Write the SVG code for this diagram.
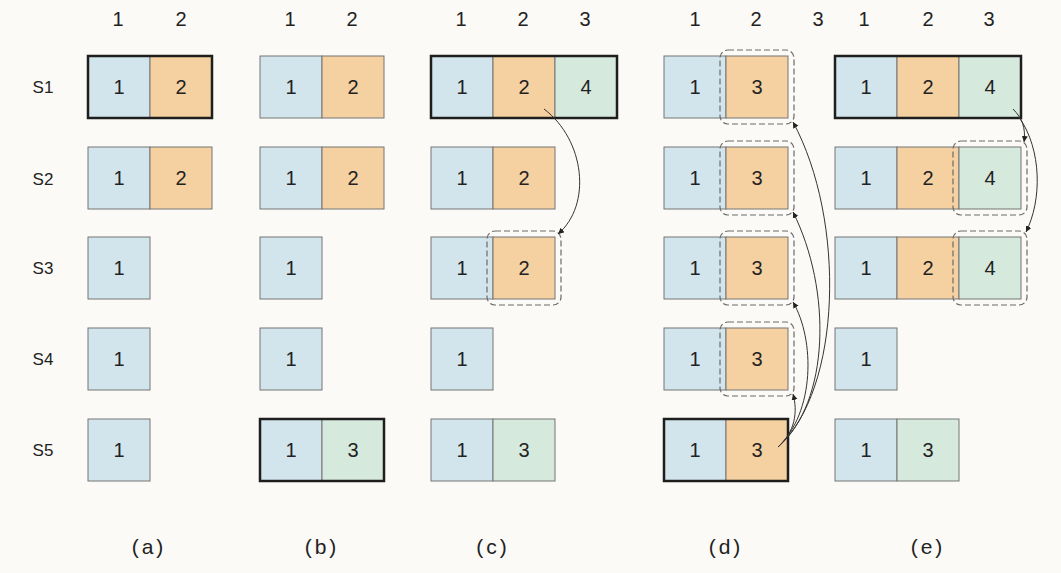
<svg xmlns="http://www.w3.org/2000/svg" width="1061" height="573" viewBox="0 0 1061 573">
<defs>
<style>
.b{fill:#d3e5ec;stroke:#757575;stroke-width:1}
.o{fill:#f5d1a1;stroke:#757575;stroke-width:1}
.g{fill:#d6e9dd;stroke:#757575;stroke-width:1}
.thick{fill:none;stroke:#1e1e1e;stroke-width:2.5}
.dash{fill:none;stroke:#6a6a6a;stroke-width:1.2;stroke-dasharray:6 3}
.t{font-family:"Liberation Sans","DejaVu Sans",sans-serif;font-size:20px;fill:#222;text-anchor:middle;dominant-baseline:central}
.h{font-family:"Liberation Sans","DejaVu Sans",sans-serif;font-size:20px;fill:#222;text-anchor:middle;dominant-baseline:central}
.s{font-family:"Liberation Sans","DejaVu Sans",sans-serif;font-size:17px;fill:#222;text-anchor:middle;dominant-baseline:central}
.cap{font-family:"Liberation Sans","DejaVu Sans",sans-serif;font-size:21px;fill:#222;text-anchor:middle;dominant-baseline:central;letter-spacing:3px}
.arr{fill:none;stroke:#333;stroke-width:1;marker-end:url(#ah)}
</style>
<marker id="ah" markerWidth="7" markerHeight="7" refX="6" refY="3" orient="auto" markerUnits="userSpaceOnUse">
<path d="M0,0 L6,3 L0,6 Z" fill="#222"/>
</marker>
</defs>
<rect width="1061" height="573" fill="#fbfaf6"/>

<g id="headers">
<text class="h" x="118" y="19">1</text><text class="h" x="181" y="19">2</text>
<text class="h" x="290" y="19">1</text><text class="h" x="352" y="19">2</text>
<text class="h" x="461" y="19">1</text><text class="h" x="523" y="19">2</text><text class="h" x="585" y="19">3</text>
<text class="h" x="695" y="19">1</text><text class="h" x="756" y="19">2</text><text class="h" x="818" y="19">3</text>
<text class="h" x="864" y="19">1</text><text class="h" x="928" y="19">2</text><text class="h" x="989" y="19">3</text>
</g>

<g id="rowlabels">
<text class="s" x="43" y="87">S1</text>
<text class="s" x="43" y="179">S2</text>
<text class="s" x="43" y="268">S3</text>
<text class="s" x="43" y="359">S4</text>
<text class="s" x="43" y="450">S5</text>
</g>

<g id="col-a">
<g id="a-s1"><rect class="b" x="88" y="56" width="62" height="62"/><rect class="o" x="150" y="56" width="62" height="62"/><rect class="thick" x="88" y="56" width="124" height="62"/><text class="t" x="119" y="87">1</text><text class="t" x="181" y="87">2</text></g>
<g id="a-s2"><rect class="b" x="88" y="147" width="62" height="62"/><rect class="o" x="150" y="147" width="62" height="62"/><text class="t" x="119" y="178">1</text><text class="t" x="181" y="178">2</text></g>
<g id="a-s3"><rect class="b" x="88" y="237" width="62" height="62"/><text class="t" x="119" y="268">1</text></g>
<g id="a-s4"><rect class="b" x="88" y="328" width="62" height="62"/><text class="t" x="119" y="359">1</text></g>
<g id="a-s5"><rect class="b" x="88" y="419" width="62" height="62"/><text class="t" x="119" y="450">1</text></g>
</g>

<g id="col-b">
<g id="b-s1"><rect class="b" x="260" y="56" width="62" height="62"/><rect class="o" x="322" y="56" width="62" height="62"/><text class="t" x="291" y="87">1</text><text class="t" x="353" y="87">2</text></g>
<g id="b-s2"><rect class="b" x="260" y="147" width="62" height="62"/><rect class="o" x="322" y="147" width="62" height="62"/><text class="t" x="291" y="178">1</text><text class="t" x="353" y="178">2</text></g>
<g id="b-s3"><rect class="b" x="260" y="237" width="62" height="62"/><text class="t" x="291" y="268">1</text></g>
<g id="b-s4"><rect class="b" x="260" y="328" width="62" height="62"/><text class="t" x="291" y="359">1</text></g>
<g id="b-s5"><rect class="b" x="260" y="419" width="62" height="62"/><rect class="g" x="322" y="419" width="62" height="62"/><rect class="thick" x="260" y="419" width="124" height="62"/><text class="t" x="291" y="450">1</text><text class="t" x="353" y="450">3</text></g>
</g>

<g id="col-c">
<g id="c-s1"><rect class="b" x="431" y="56" width="62" height="62"/><rect class="o" x="493" y="56" width="62" height="62"/><rect class="g" x="555" y="56" width="62" height="62"/><rect class="thick" x="431" y="56" width="186" height="62"/><text class="t" x="462" y="87">1</text><text class="t" x="524" y="87">2</text><text class="t" x="586" y="87">4</text></g>
<g id="c-s2"><rect class="b" x="431" y="147" width="62" height="62"/><rect class="o" x="493" y="147" width="62" height="62"/><text class="t" x="462" y="178">1</text><text class="t" x="524" y="178">2</text></g>
<g id="c-s3"><rect class="b" x="431" y="237" width="62" height="62"/><rect class="o" x="493" y="237" width="62" height="62"/><rect class="dash" x="487" y="231" width="74" height="74" rx="8"/><text class="t" x="462" y="268">1</text><text class="t" x="524" y="268">2</text></g>
<g id="c-s4"><rect class="b" x="431" y="328" width="62" height="62"/><text class="t" x="462" y="359">1</text></g>
<g id="c-s5"><rect class="b" x="431" y="419" width="62" height="62"/><rect class="g" x="493" y="419" width="62" height="62"/><text class="t" x="462" y="450">1</text><text class="t" x="524" y="450">3</text></g>
</g>

<g id="col-d">
<g id="d-s1"><rect class="b" x="664" y="56" width="62" height="62"/><rect class="o" x="726" y="56" width="62" height="62"/><rect class="dash" x="720" y="50" width="74" height="74" rx="8"/><text class="t" x="695" y="87">1</text><text class="t" x="757" y="87">3</text></g>
<g id="d-s2"><rect class="b" x="664" y="147" width="62" height="62"/><rect class="o" x="726" y="147" width="62" height="62"/><rect class="dash" x="720" y="141" width="74" height="74" rx="8"/><text class="t" x="695" y="178">1</text><text class="t" x="757" y="178">3</text></g>
<g id="d-s3"><rect class="b" x="664" y="237" width="62" height="62"/><rect class="o" x="726" y="237" width="62" height="62"/><rect class="dash" x="720" y="231" width="74" height="74" rx="8"/><text class="t" x="695" y="268">1</text><text class="t" x="757" y="268">3</text></g>
<g id="d-s4"><rect class="b" x="664" y="328" width="62" height="62"/><rect class="o" x="726" y="328" width="62" height="62"/><rect class="dash" x="720" y="322" width="74" height="74" rx="8"/><text class="t" x="695" y="359">1</text><text class="t" x="757" y="359">3</text></g>
<g id="d-s5"><rect class="b" x="664" y="419" width="62" height="62"/><rect class="o" x="726" y="419" width="62" height="62"/><rect class="thick" x="664" y="419" width="124" height="62"/><text class="t" x="695" y="450">1</text><text class="t" x="757" y="450">3</text></g>
</g>

<g id="col-e">
<g id="e-s1"><rect class="b" x="835" y="56" width="62" height="62"/><rect class="o" x="897" y="56" width="62" height="62"/><rect class="g" x="959" y="56" width="62" height="62"/><rect class="thick" x="835" y="56" width="186" height="62"/><text class="t" x="866" y="87">1</text><text class="t" x="928" y="87">2</text><text class="t" x="990" y="87">4</text></g>
<g id="e-s2"><rect class="b" x="835" y="147" width="62" height="62"/><rect class="o" x="897" y="147" width="62" height="62"/><rect class="g" x="959" y="147" width="62" height="62"/><rect class="dash" x="953" y="141" width="74" height="74" rx="8"/><text class="t" x="866" y="178">1</text><text class="t" x="928" y="178">2</text><text class="t" x="990" y="178">4</text></g>
<g id="e-s3"><rect class="b" x="835" y="237" width="62" height="62"/><rect class="o" x="897" y="237" width="62" height="62"/><rect class="g" x="959" y="237" width="62" height="62"/><rect class="dash" x="953" y="231" width="74" height="74" rx="8"/><text class="t" x="866" y="268">1</text><text class="t" x="928" y="268">2</text><text class="t" x="990" y="268">4</text></g>
<g id="e-s4"><rect class="b" x="835" y="328" width="62" height="62"/><text class="t" x="866" y="359">1</text></g>
<g id="e-s5"><rect class="b" x="835" y="419" width="62" height="62"/><rect class="g" x="897" y="419" width="62" height="62"/><text class="t" x="866" y="450">1</text><text class="t" x="928" y="450">3</text></g>
</g>

<g id="connectors">
<path class="arr" d="M544,109 C585,140 592,205 558,234"/>
<path class="arr" d="M778,447 C842,390 846,220 793,122"/>
<path class="arr" d="M778,447 C830,402 832,290 793,212"/>
<path class="arr" d="M778,447 C815,412 815,340 793,302"/>
<path class="arr" d="M778,447 C795,432 798,412 793,394"/>
<path class="arr" d="M1013,109 C1022,118 1026,128 1024,142"/>
<path class="arr" d="M1019,117 C1042,150 1042,200 1026,232"/>
</g>

<g id="captions">
<text class="cap" x="149" y="546">(a)</text>
<text class="cap" x="322" y="546">(b)</text>
<text class="cap" x="493" y="546">(c)</text>
<text class="cap" x="726" y="546">(d)</text>
<text class="cap" x="928" y="546">(e)</text>
</g>
</svg>
